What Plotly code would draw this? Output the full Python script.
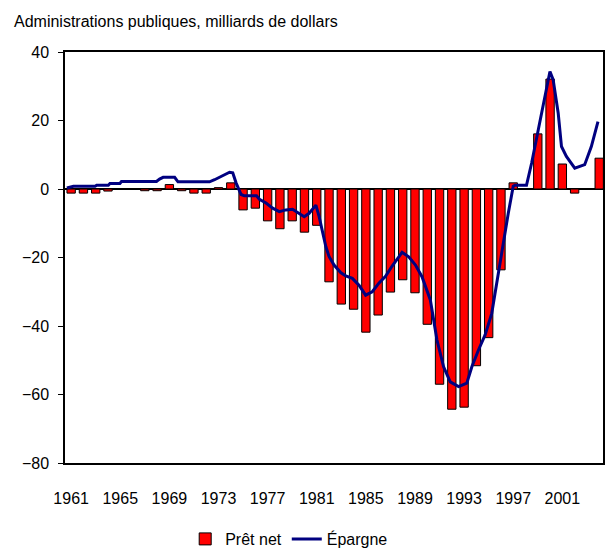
import plotly.graph_objects as go

# Annual bars: Prêt net (net lending), billions of dollars
years = list(range(1961, 2005))
pret_net = [-1.2, -1.2, -1.2, -0.6, 0.0, 0.0, -0.5, -0.5, 1.3, -0.5,
            -1.2, -1.2, 0.4, 1.8, -6.1, -5.6, -9.3, -11.6, -9.3, -12.6,
            -10.6, -27.1, -33.6, -35.1, -41.8, -36.8, -30.1, -26.5, -30.3, -39.5,
            -57.0, -64.3, -63.7, -51.6, -43.4, -23.6, 1.8, 0.0, 16.1, 32.1,
            7.3, -1.2, 0.0, 9.0]

# Épargne (saving) line, read as (decimal year, value)
epargne_t = [1960.65, 1961.19, 1962.95, 1963.08, 1964.03, 1964.16, 1964.97, 1965.10,
             1967.95, 1968.20, 1968.49, 1969.43, 1969.70, 1972.27, 1972.68, 1973.08,
             1973.49, 1973.90, 1974.16, 1974.43, 1974.84, 1975.11, 1976.10, 1976.33,
             1976.87, 1977.41, 1977.95, 1978.49, 1979.03, 1979.57, 1979.98, 1980.38,
             1980.93, 1981.19, 1981.46, 1981.74, 1982.00, 1982.41, 1982.95, 1983.36,
             1983.90, 1984.44, 1984.98, 1985.52, 1986.06, 1986.60, 1987.14, 1987.95,
             1988.49, 1989.04, 1989.57, 1990.25, 1990.79, 1991.33, 1991.87, 1992.55,
             1993.22, 1993.63, 1994.17, 1994.71, 1995.25, 1995.79, 1996.20, 1996.60,
             1997.00, 1997.14, 1998.08, 1998.50, 1999.04, 1999.58, 1999.99, 2000.25,
             2000.66, 2000.93, 2001.33, 2002.01, 2002.82, 2003.36, 2003.90]
epargne_v = [0.3, 0.8, 0.8, 1.1, 1.1, 1.6, 1.6, 2.2,
             2.2, 2.9, 3.4, 3.4, 2.1, 2.1, 2.7, 3.5,
             4.2, 4.9, 4.7, 1.8, -1.6, -2.0, -2.0, -3.0,
             -4.1, -5.6, -6.6, -6.1, -5.9, -7.1, -8.1, -7.1,
             -4.7, -8.0, -12.0, -16.8, -19.7, -22.2, -24.4, -25.4,
             -26.1, -28.1, -31.0, -30.0, -27.5, -25.5, -22.5, -18.5,
             -19.8, -22.2, -25.6, -32.4, -44.1, -51.9, -56.3, -57.7,
             -56.7, -51.9, -47.0, -42.6, -36.3, -24.6, -14.8, -7.0,
             0.8, 1.1, 1.1, 7.6, 17.3, 27.0, 34.3, 31.9,
             22.2, 12.4, 9.5, 6.1, 7.1, 12.4, 19.7]

tick_years = list(range(1961, 2002, 4))
tick_labels = [str(y) for y in tick_years]
y_ticks = [-80, -60, -40, -20, 0, 20, 40]

FONT = "Liberation Sans, Arial, sans-serif"

fig = go.Figure()
fig.add_trace(go.Bar(
    x=years, y=pret_net, name="Prêt net", width=0.68,
    marker=dict(color="#FF0000", line=dict(color="#000000", width=1)),
))
fig.add_trace(go.Scatter(
    x=epargne_t, y=epargne_v, name="Épargne", mode="lines",
    line=dict(color="#000080", width=3),
))

fig.update_layout(
    width=605, height=549,
    margin=dict(l=65, r=0, t=52, b=86),
    paper_bgcolor="white", plot_bgcolor="white",
    font=dict(family=FONT, size=16, color="black"),
    title=dict(text="Administrations publiques, milliards de dollars",
               xref="container", x=14 / 605, xanchor="left",
               yref="container", y=1 - 21 / 549, yanchor="middle",
               font=dict(family=FONT, size=16, color="black")),
    showlegend=True,
    legend=dict(orientation="h", xref="container", x=0.478, xanchor="center",
                yref="container", y=1 - 539 / 549, yanchor="middle",
                font=dict(family=FONT, size=16), bgcolor="rgba(0,0,0,0)",
                itemwidth=30, tracegroupgap=0),
    bargap=0.3,
)
fig.update_xaxes(
    range=[1960.5, 2004.31], tickmode="array", tickvals=tick_years, ticktext=tick_labels,
    showline=True, linecolor="black", linewidth=1.5, mirror=True,
    showgrid=False, zeroline=False, ticks="", ticklabelstandoff=20,
)
fig.update_yaxes(
    range=[-80, 40], tickmode="array", tickvals=y_ticks,
    showline=True, linecolor="black", linewidth=1.5, mirror=True,
    showgrid=False, zeroline=True, zerolinecolor="black", zerolinewidth=1.5,
    ticks="outside", ticklen=5, tickcolor="black", ticklabelstandoff=6,
)

fig.write_html(
    "out.html",
    config={"displayModeBar": False},
    post_script="document.body.style.margin='0';document.body.style.overflow='hidden';",
)
